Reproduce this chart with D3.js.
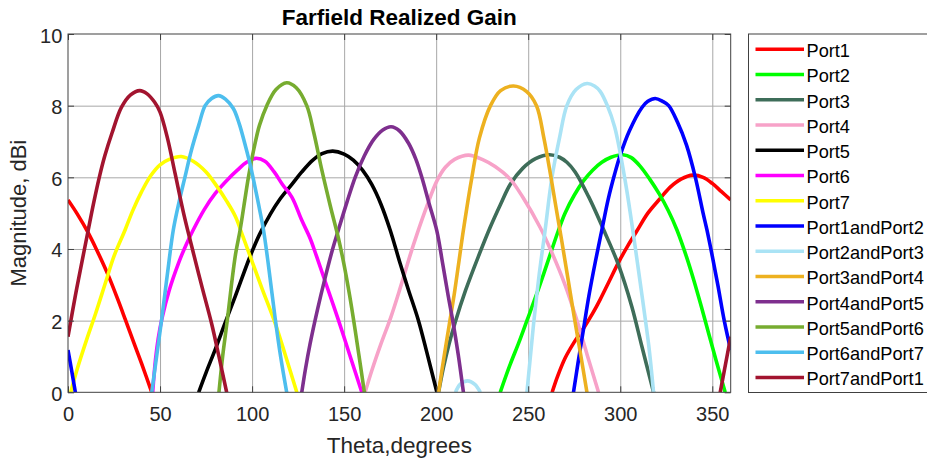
<!DOCTYPE html>
<html>
<head>
<meta charset="utf-8">
<script src="https://cdn.jsdelivr.net/npm/d3@7/dist/d3.min.js"></script>
<style>
  html, body { margin: 0; padding: 0; background: #fff; }
  svg { display: block; font-family: "Liberation Sans", Arial, Helvetica, sans-serif; }
</style>
</head>
<body>
<svg id="chart" width="927" height="460"></svg>
<script>
// Farfield realized gain (dBi) versus theta (degrees) for each port excitation.
// Each series is a list of [theta, gain] samples; null splits a series into
// separate pieces where the pattern drops below the 0 dBi floor.

const seriesNames = [
  "Port1", "Port2", "Port3", "Port4", "Port5", "Port6", "Port7",
  "Port1andPort2", "Port2andPort3", "Port3andPort4", "Port4andPort5",
  "Port5andPort6", "Port6andPort7", "Port7andPort1"
];

const port1 = [[0,5.37],[5,4.98],[11,4.45],[16,3.93],[22,3.25],[27,2.6],[31,2.05],[36,1.35],[40,0.8],[45.5,0],
  null,
  [263,0],[266,0.45],[270,0.95],[275,1.4],[280,1.78],[285,2.2],[289,2.58],[294,3.1],[299,3.62],[304,4.08],[309,4.5],
  [315,5.0],[321.7,5.41],[327,5.72],[333,5.95],[339.5,6.06],[345,6.0],[350,5.83],[355,5.6],[360,5.37]];

const port2 = [[234.8,0],[240,0.75],[245,1.4],[249.3,2.0],[255,2.8],[260,3.55],[266.5,4.53],[270,5.0],[275,5.5],
  [280,5.9],[285,6.2],[290,6.42],[295,6.56],[301.5,6.63],[306,6.55],[311,6.3],[316,5.95],[321,5.55],[326,5.08],
  [330.8,4.53],[336,3.78],[340,3.12],[344,2.4],[348,1.65],[352,0.9],[357,0]];

const port3 = [[201.3,0],[204,0.7],[207,1.35],[210.3,1.95],[216,2.85],[223,3.8],[229.3,4.6],[235,5.25],[240.2,5.8],
  [247,6.25],[254,6.52],[261.5,6.63],[267,6.56],[271,6.42],[275.5,6.15],[282.8,5.46],[291.8,4.44],[299.1,3.55],
  [306.3,2.39],[311.8,1.27],[318.1,0]];

const port4 = [[161.4,0],[165,0.6],[170,1.35],[175.4,2.1],[180.4,2.9],[186,3.85],[189.5,4.4],[195,5.2],[200.4,5.9],
  [205,6.28],[210,6.5],[217.6,6.62],[225,6.5],[232,6.3],[240.2,5.95],[247,5.45],[256.5,4.6],[262,4.0],[270,3.0],
  [276.5,2.0],[282,1.05],[288.2,0]];

const port5 = [[71,0],[75,0.55],[80,1.2],[85.3,1.93],[90.8,2.67],[98.9,3.79],[104,4.4],[110,4.98],[115,5.38],
  [121.6,5.8],[127,6.15],[133,6.48],[138,6.66],[143.8,6.73],[150,6.65],[155,6.48],[160,6.2],[165,5.8],[170,5.25],
  [175,4.53],[180.4,3.6],[185,2.85],[190.4,2.0],[195,1.1],[200.4,0]];

const port6 = [[46,0],[47.5,0.9],[49,1.5],[51,2.05],[55,2.85],[60,3.6],[64,4.1],[68,4.53],[74,5.1],[80,5.55],
  [86,5.9],[92,6.2],[97,6.42],[102,6.53],[107,6.45],[112,6.15],[116.5,5.8],[121.6,5.45],[127,4.8],[131.5,4.3],
  [135,3.8],[140,3.05],[147,2.0],[153,1.05],[159.6,0]];

const port7 = [[1.5,0],[5,0.65],[10,1.45],[15,2.2],[20,3.0],[25,3.8],[31,4.53],[35,5.05],[40,5.6],[45,6.05],
  [50,6.35],[55,6.5],[61.5,6.58],[68,6.45],[75,6.15],[81,5.74],[86,5.35],[91,4.9],[95,4.35],[99,3.79],[105,2.95],
  [112.5,1.93],[118,1.05],[124.3,0]];

const port1and2 = [[0,1.18],[2,0.6],[4,0],
  null,
  [274.6,0],[277,0.8],[280,1.75],[283,2.7],[286.5,3.65],[290,4.53],[293.5,5.4],[297,6.1],[300,6.62],[305,7.3],
  [311.8,7.95],[315,8.12],[319,8.2],[323,8.12],[326.3,8.0],[331,7.55],[336,6.9],[340.8,6.0],[345,5.0],[347.1,4.53],
  [350,3.8],[353,3.0],[356.5,2.0],[360,1.18]];

const port2and3 = [[210.5,0],[213,0.22],[217,0.32],[221,0.22],[224,0],
  null,
  [249.3,0],[251,0.9],[253,1.95],[256,3.3],[259.2,4.53],[262.9,6.0],[267,7.1],[271,8.0],[276,8.45],[282,8.62],
  [286,8.55],[289.1,8.4],[293,8.0],[297,7.4],[300,6.67],[303.5,5.65],[306.8,4.53],[309.5,3.55],[312.5,2.45],
  [315.5,1.3],[318.1,0]];

const port3and4 = [[201.3,0],[204,0.9],[207,1.85],[210,2.8],[212.5,3.7],[214.8,4.53],[219.4,6.0],[223.5,7.1],
  [229.5,8.0],[235,8.42],[242,8.55],[249,8.4],[254.5,8.0],[258.5,7.1],[262.2,6.05],[265.3,5.1],[268.3,4.2],
  [271.5,3.2],[275,2.1],[278.5,1.05],[281.9,0]];

const port4and5 = [[127,0],[129,0.65],[131.5,1.35],[135.5,2.3],[139.7,3.2],[143.5,3.95],[147,4.55],[151.5,5.3],
  [156,6.0],[161,6.6],[166,7.05],[171,7.32],[175.5,7.41],[180,7.3],[185,6.95],[189,6.5],[192.2,6.0],[196,5.3],
  [200.4,4.5],[203.5,3.6],[206.5,2.7],[209,2.0],[212,1.05],[214.8,0]];

const port5and6 = [[82,0],[84,1.0],[86.5,2.0],[88.8,3.0],[91,3.85],[93.5,4.53],[96,5.35],[98,6.0],[101,6.8],
  [104,7.45],[108,8.0],[113,8.45],[118.8,8.64],[124,8.5],[129.7,8.0],[133.5,7.25],[137.9,6.2],[142.5,5.2],
  [146.9,4.3],[150,3.55],[153,2.7],[155.5,1.9],[158,1.05],[161,0]];

const port6and7 = [[45.5,0],[48,0.95],[50.9,2.04],[54,3.3],[57.2,4.53],[60.5,5.35],[63.5,6.0],[67,6.75],[71,7.45],
  [74.5,8.0],[78,8.2],[81.7,8.28],[85.5,8.18],[89.8,7.92],[93,7.5],[96,6.95],[98.5,6.45],[100.7,5.95],[103.5,5.25],
  [106.2,4.53],[109,3.5],[112.6,2.04],[115.5,1.0],[118.8,0]];

const port7and1 = [[0,1.55],[4,2.7],[8,3.75],[11,4.53],[14,5.3],[17,6.0],[20,6.6],[24,7.25],[29,7.95],[34,8.3],
  [39,8.42],[43,8.33],[47,8.1],[50,7.82],[54,7.1],[58.2,6.1],[63,4.95],[68.3,3.85],[73,2.9],[78.1,1.9],[82,1.0],
  [86.2,0],
  null,
  [354.3,0],[360,1.55]];

const seriesValues = [port1, port2, port3, port4, port5, port6, port7,
  port1and2, port2and3, port3and4, port4and5, port5and6, port6and7, port7and1];

const seriesColors = ["#ff0000", "#00ff00", "#3e6d59", "#f7a2c8", "#000000", "#ff00ff", "#ffff00",
  "#0000ff", "#aae3f5", "#edb120", "#7e2f8e", "#77ac30", "#4dbeee", "#a2142f"];

const xTicks = [0, 50, 100, 150, 200, 250, 300, 350];
const yTicks = [0, 2, 4, 6, 8, 10];

const titleText = "Farfield Realized Gain";
const xLabel = "Theta,degrees";
const yLabel = "Magnitude, dBi";

// ---- layout ----
const plot = { left: 68, top: 34, right: 730.7, bottom: 392.3 };
const pw = plot.right - plot.left, ph = plot.bottom - plot.top;
const axisColor = "#404040";
const textColor = "#262626";

const svg = d3.select("#chart");
svg.append("rect").attr("width", 927).attr("height", 460).attr("fill", "#fff");

const x = d3.scaleLinear().domain([0, 360]).range([plot.left, plot.right]);
const y = d3.scaleLinear().domain([0, 10]).range([plot.bottom, plot.top]);

// grid
const grid = svg.append("g");
grid.append("g")
  .attr("transform", `translate(0,${plot.bottom})`)
  .call(d3.axisBottom(x).tickValues(xTicks.filter(t => t > 0)).tickSize(-ph).tickFormat(""))
  .call(g => g.select(".domain").remove())
  .call(g => g.selectAll("line").attr("stroke", "#a8a8a8").attr("stroke-width", 1));
grid.append("g")
  .attr("transform", `translate(${plot.left},0)`)
  .call(d3.axisLeft(y).tickValues(yTicks.filter(t => t > 0 && t < 10)).tickSize(-pw).tickFormat(""))
  .call(g => g.select(".domain").remove())
  .call(g => g.selectAll("line").attr("stroke", "#a8a8a8").attr("stroke-width", 1));

// data lines
svg.append("clipPath").attr("id", "plotClip")
  .append("rect").attr("x", plot.left).attr("y", plot.top).attr("width", pw).attr("height", ph);

const line = d3.line()
  .defined(d => d !== null)
  .x(d => x(d[0]))
  .y(d => y(d[1]))
  .curve(d3.curveCatmullRom.alpha(0.5));

svg.append("g").attr("clip-path", "url(#plotClip)")
  .selectAll("path")
  .data(seriesValues)
  .join("path")
  .attr("d", d => line(d))
  .attr("fill", "none")
  .attr("stroke", (d, i) => seriesColors[i])
  .attr("stroke-width", 3.6)
  .attr("stroke-linejoin", "round")
  .attr("stroke-linecap", "butt");

// axes frame with inward ticks
const tickLen = 6;
const xAxisG = svg.append("g")
  .attr("transform", `translate(0,${plot.bottom})`)
  .call(d3.axisBottom(x).tickValues(xTicks).tickSizeInner(-tickLen).tickSizeOuter(0).tickPadding(0));
xAxisG.select(".domain").remove();
xAxisG.selectAll("line").attr("stroke", axisColor);
xAxisG.selectAll("text")
  .attr("y", 28.4).attr("dy", null)
  .attr("fill", textColor).attr("font-size", 20)
  .attr("font-family", "Liberation Sans, Arial, sans-serif");

const xTopG = svg.append("g")
  .attr("transform", `translate(0,${plot.top})`)
  .call(d3.axisTop(x).tickValues(xTicks).tickSizeInner(-tickLen).tickSizeOuter(0).tickFormat(""));
xTopG.select(".domain").remove();
xTopG.selectAll("line").attr("stroke", axisColor);

const yAxisG = svg.append("g")
  .attr("transform", `translate(${plot.left},0)`)
  .call(d3.axisLeft(y).tickValues(yTicks).tickSizeInner(-tickLen).tickSizeOuter(0).tickPadding(0));
yAxisG.select(".domain").remove();
yAxisG.selectAll("line").attr("stroke", axisColor);
yAxisG.selectAll("text")
  .attr("x", -5.7).attr("dy", "0.4em")
  .attr("fill", textColor).attr("font-size", 20)
  .attr("font-family", "Liberation Sans, Arial, sans-serif");

const yRightG = svg.append("g")
  .attr("transform", `translate(${plot.right},0)`)
  .call(d3.axisRight(y).tickValues(yTicks).tickSizeInner(-tickLen).tickSizeOuter(0).tickFormat(""));
yRightG.select(".domain").remove();
yRightG.selectAll("line").attr("stroke", axisColor);

svg.append("rect")
  .attr("x", plot.left).attr("y", plot.top).attr("width", pw).attr("height", ph)
  .attr("fill", "none").attr("stroke", axisColor).attr("stroke-width", 1);

// title and axis labels
svg.append("text")
  .attr("x", (plot.left + plot.right) / 2).attr("y", 25)
  .attr("text-anchor", "middle").attr("font-size", 22.5).attr("font-weight", "bold")
  .attr("fill", "#000").text(titleText);

svg.append("text")
  .attr("x", (plot.left + plot.right) / 2).attr("y", 452.5)
  .attr("text-anchor", "middle").attr("font-size", 22.5)
  .attr("fill", textColor).text(xLabel);

svg.append("text")
  .attr("transform", `translate(26,${(plot.top + plot.bottom) / 2}) rotate(-90)`)
  .attr("text-anchor", "middle").attr("font-size", 22)
  .attr("fill", textColor).text(yLabel);

// legend
const legend = svg.append("g");
legend.append("rect")
  .attr("x", 748.5).attr("y", 34).attr("width", 220).attr("height", 358.5)
  .attr("fill", "#fff").attr("stroke", axisColor).attr("stroke-width", 1);

const rowY = i => 49.3 + i * 25.25;
const rows = legend.selectAll("g.row")
  .data(seriesNames)
  .join("g").attr("class", "row");
rows.append("line")
  .attr("x1", 755.5).attr("x2", 804)
  .attr("y1", (d, i) => rowY(i)).attr("y2", (d, i) => rowY(i))
  .attr("stroke", (d, i) => seriesColors[i]).attr("stroke-width", 3.6);
rows.append("text")
  .attr("x", 806.5).attr("y", (d, i) => rowY(i) + 7.8)
  .attr("font-size", 18.2).attr("fill", "#000")
  .text(d => d);
</script>
</body>
</html>
